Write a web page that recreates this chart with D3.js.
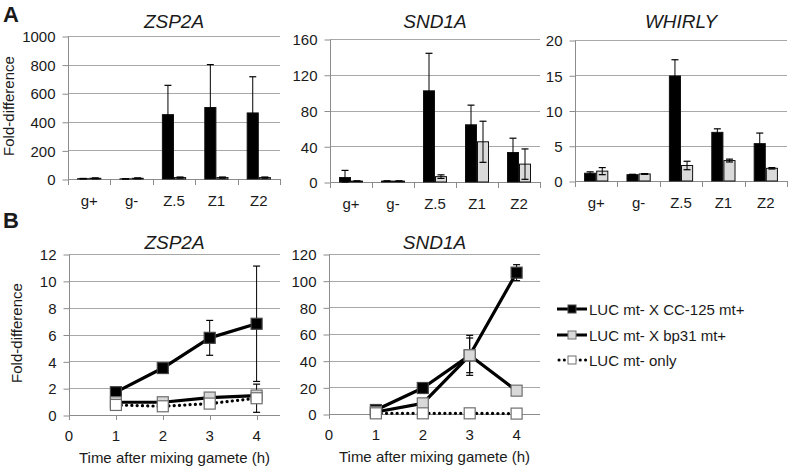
<!DOCTYPE html>
<html><head><meta charset="utf-8">
<script src="https://cdn.jsdelivr.net/npm/d3@7"></script>
<style>
html,body{margin:0;padding:0;background:#fff;}
svg text{font-family:"Liberation Sans",Arial,sans-serif;fill:#1a1a1a;}
</style></head>
<body><svg id="c" width="789" height="471"></svg>
<script>
// ---------- DATA ----------
const catsA = ["g+", "g-", "Z.5", "Z1", "Z2"];
const titlesA = ["ZSP2A", "SND1A", "WHIRLY"];
const ticksA = [[0,200,400,600,800,1000],[0,40,80,120,160],[0,5,10,15,20]];

const zspBlack = [2, 1, 450, 500, 462];
const zspBlackErr = [2, 1, 205, 300, 253];
const zspGrey = [5, 5, 10, 10, 10];
const zspGreyErr = [3, 3, 4, 4, 4];

const sndBlack = [5, 1, 102, 64, 33];
const sndBlackErr = [8, 0.3, 42, 22, 16];
const sndGrey = [1, 1, 6, 45, 20];
const sndGreyErr = [0.3, 0.3, 2, 23, 17];

const whiBlack = [1.1, 0.9, 14.9, 6.9, 5.3];
const whiBlackErr = [0.2, 0.05, 2.3, 0.5, 1.5];
const whiGrey = [1.4, 1.0, 2.2, 2.9, 1.8];
const whiGreyErr = [0.5, 0.05, 0.6, 0.2, 0.1];

const timesB = [1, 2, 3, 4];
const xTicksB = [0, 1, 2, 3, 4];
const titlesB = ["ZSP2A", "SND1A"];
const ticksB = [[0,2,4,6,8,10,12],[0,20,40,60,80,100,120]];
const seriesNames = ["LUC mt- X CC-125 mt+", "LUC mt- X bp31 mt+", "LUC mt- only"];

const zspCC = [1.7, 3.5, 5.75, 6.8];
const zspCCErr = [0.1, 0.1, 1.3, 4.3];
const zspBp = [0.95, 0.95, 1.3, 1.45];
const zspBpErr = [0.05, 0.1, 0.3, 0.1];
const zspOnly = [0.75, 0.65, 0.85, 1.25];
const zspOnlyErr = [0.05, 0.05, 0.1, 1.05];

const sndCC = [3, 19.5, 44, 106];
const sndCCErr = [1, 1, 13, 6];
const sndBp = [1.5, 8, 44, 17.5];
const sndBpErr = [0.5, 1, 15, 1];
const sndOnly = [0.5, 0.5, 0.5, 0.3];
const sndOnlyErr = [0, 0, 0, 0];

// ---------- STYLE / LAYOUT ----------
const GRID = "#a8a8a8", AXIS = "#8c8c8c";
const svg = d3.select("#c");
const font = "Liberation Sans, Arial, sans-serif";

function panelLetter(t, x, y){
  svg.append("text").attr("x", x).attr("y", y).text(t)
    .style("font-size","22px").style("font-weight","bold");
}
function yLabel(x, y){
  svg.append("text").attr("transform",`translate(${x},${y}) rotate(-90)`)
    .attr("text-anchor","middle").style("font-size","15px").text("Fold-difference");
}
function title(t, x, y){
  svg.append("text").attr("x",x).attr("y",y).attr("text-anchor","middle")
    .style("font-size","19px").style("font-style","italic").text(t);
}
function yAxisGrid(g, y, ticks, x0, x1){
  g.selectAll(".grid").data(ticks.filter(d=>d>0)).enter().append("line")
    .attr("x1",x0).attr("x2",x1).attr("y1",d=>Math.round(y(d))+0.5).attr("y2",d=>Math.round(y(d))+0.5)
    .attr("stroke",GRID).attr("stroke-width",1);
  const ax = d3.axisLeft(y).tickValues(ticks).tickSize(6).tickPadding(7).tickFormat(d3.format("d"));
  const a = g.append("g").attr("transform",`translate(${x0+0.5},0.5)`).call(ax);
  a.select(".domain").attr("stroke",AXIS).attr("d",`M0,${y.range()[1]}V${y.range()[0]}`);
  a.selectAll(".tick line").attr("stroke",AXIS);
  a.selectAll(".tick text").style("font-size","15px").style("font-family",font).attr("fill","#1a1a1a").attr("dy","0.35em");
}

// ---------- PANEL A ----------
panelLetter("A", 3, 22);
yLabel(14, 106);
const panA = [
  {x0:68, x1:280, y0:179, y1:36, dom:1000, b:zspBlack, be:zspBlackErr, g:zspGrey, ge:zspGreyErr},
  {x0:330, x1:540, y0:182, y1:39, dom:160, b:sndBlack, be:sndBlackErr, g:sndGrey, ge:sndGreyErr},
  {x0:575, x1:787, y0:181, y1:40, dom:20, b:whiBlack, be:whiBlackErr, g:whiGrey, ge:whiGreyErr}
];
panA.forEach((p,i)=>{
  const g = svg.append("g");
  const y = d3.scaleLinear().domain([0,p.dom]).range([p.y0,p.y1]);
  const x = d3.scaleBand().domain(catsA).range([p.x0,p.x1]).paddingInner(0).paddingOuter(0);
  const xs = d3.scaleBand().domain(["b","g"]).range([0,x.bandwidth()]).paddingOuter(0.75).paddingInner(0);
  yAxisGrid(g, y, ticksA[i], p.x0, p.x1);
  // x axis
  g.append("line").attr("x1",p.x0).attr("x2",p.x1).attr("y1",p.y0+0.5).attr("y2",p.y0+0.5).attr("stroke",AXIS);
  const bounds = catsA.map(c=>x(c)).concat([p.x1]);
  g.selectAll(".xt").data(bounds).enter().append("line")
    .attr("x1",d=>Math.round(d)+0.5).attr("x2",d=>Math.round(d)+0.5).attr("y1",p.y0).attr("y2",p.y0+6).attr("stroke",AXIS);
  g.selectAll(".xl").data(catsA).enter().append("text")
    .attr("x",d=>x(d)+x.bandwidth()/2).attr("y",p.y0+27).attr("text-anchor","middle")
    .style("font-size","15px").text(d=>d);
  const series = [{k:"b",v:p.b,e:p.be,fill:"#000"},{k:"g",v:p.g,e:p.ge,fill:"#dadada"}];
  series.forEach(s=>{
    g.selectAll(null).data(catsA).enter().append("rect")
      .attr("x",(d,j)=>x(d)+xs(s.k)+0.5).attr("width",xs.bandwidth()-1)
      .attr("y",(d,j)=>y(s.v[j])).attr("height",(d,j)=>Math.max(0,y(0)-y(s.v[j])))
      .attr("fill",s.fill).attr("stroke","#111").attr("stroke-width",1);
  });
  series.forEach(s=>{
    catsA.forEach((d,j)=>{
      const cx = x(d)+xs(s.k)+xs.bandwidth()/2;
      const top = y(s.v[j]+s.e[j]), bot = y(Math.max(0,s.v[j]-s.e[j]));
      g.append("line").attr("x1",cx).attr("x2",cx).attr("y1",top).attr("y2",bot).attr("stroke","#000").attr("stroke-width",1);
      [top,bot].forEach(yy=>g.append("line").attr("x1",cx-3.5).attr("x2",cx+3.5).attr("y1",yy).attr("y2",yy).attr("stroke","#000").attr("stroke-width",1.2));
    });
  });
  title(titlesA[i], (p.x0+p.x1)/2, 28);
});

// ---------- PANEL B ----------
panelLetter("B", 3, 228);
yLabel(22, 333);
const styles = [
  {fill:"#000", stroke:"#444", dash:null},
  {fill:"#d9d9d9", stroke:"#6e6e6e", dash:null},
  {fill:"#fff", stroke:"#6e6e6e", dash:"0.1 5.2"}
];
const panB = [
  {x0:69, y0:415, y1:254, dom:12, data:[[zspCC,zspCCErr],[zspBp,zspBpErr],[zspOnly,zspOnlyErr]]},
  {x0:329, y0:414, y1:254, dom:120, data:[[sndCC,sndCCErr],[sndBp,sndBpErr],[sndOnly,sndOnlyErr]]}
];
panB.forEach((p,i)=>{
  const g = svg.append("g");
  const x = d3.scaleLinear().domain([0,4.5]).range([p.x0, p.x0+4.5*46.9]);
  const y = d3.scaleLinear().domain([0,p.dom]).range([p.y0,p.y1]);
  yAxisGrid(g, y, ticksB[i], p.x0, x(4.5));
  g.append("line").attr("x1",p.x0).attr("x2",x(4.5)).attr("y1",p.y0+0.5).attr("y2",p.y0+0.5).attr("stroke",AXIS);
  g.selectAll(".xt").data(xTicksB).enter().append("line")
    .attr("x1",d=>Math.round(x(d))+0.5).attr("x2",d=>Math.round(x(d))+0.5)
    .attr("y1",p.y0).attr("y2",p.y0+5).attr("stroke",AXIS);
  g.selectAll(".xl").data(xTicksB).enter().append("text")
    .attr("x",d=>x(d)).attr("y",p.y0+26).attr("text-anchor","middle").style("font-size","15px").text(d=>d);
  g.append("text").attr("x",(p.x0+x(4.5))/2).attr("y",p.y0+48).attr("text-anchor","middle")
    .style("font-size","15px").text("Time after mixing gamete (h)");
  const line = d3.line().x((d,j)=>x(timesB[j])).y(d=>y(d));
  // error bars
  p.data.forEach(([v,e])=>{
    v.forEach((val,j)=>{
      if(!e[j]) return;
      const cx = x(timesB[j]), top=y(val+e[j]), bot=y(Math.max(0,val-e[j]));
      g.append("line").attr("x1",cx).attr("x2",cx).attr("y1",top).attr("y2",bot).attr("stroke","#000");
      [top,bot].forEach(yy=>g.append("line").attr("x1",cx-3.5).attr("x2",cx+3.5).attr("y1",yy).attr("y2",yy).attr("stroke","#000").attr("stroke-width",1.2));
    });
  });
  // lines
  p.data.forEach(([v],k)=>{
    const path = g.append("path").attr("d",line(v)).attr("fill","none").attr("stroke","#000")
      .attr("stroke-width",3.2).attr("stroke-linejoin","round");
    if(styles[k].dash) path.attr("stroke-dasharray",styles[k].dash).attr("stroke-linecap","round");
  });
  // markers
  p.data.forEach(([v],k)=>{
    g.selectAll(null).data(v).enter().append("rect")
      .attr("x",(d,j)=>x(timesB[j])-5.5).attr("y",d=>y(d)-5.5).attr("width",11).attr("height",11)
      .attr("fill",styles[k].fill).attr("stroke",styles[k].stroke).attr("stroke-width",1.2);
  });
  title(titlesB[i], (p.x0+x(4.5))/2, 249);
});

// ---------- LEGEND ----------
const legY = [309, 335, 360];
seriesNames.forEach((n,k)=>{
  const g = svg.append("g");
  const l = g.append("line").attr("x1",557).attr("x2",587).attr("y1",legY[k]).attr("y2",legY[k])
    .attr("stroke","#000").attr("stroke-width",3);
  if(styles[k].dash) l.attr("stroke-dasharray","0.1 5.2").attr("stroke-linecap","round").attr("x1",559);
  g.append("rect").attr("x",568).attr("y",legY[k]-4).attr("width",8).attr("height",8)
    .attr("fill",styles[k].fill).attr("stroke",styles[k].stroke).attr("stroke-width",1);
  g.append("text").attr("x",589).attr("y",legY[k]+5.5).style("font-size","15px").text(n);
});
</script></body></html>
